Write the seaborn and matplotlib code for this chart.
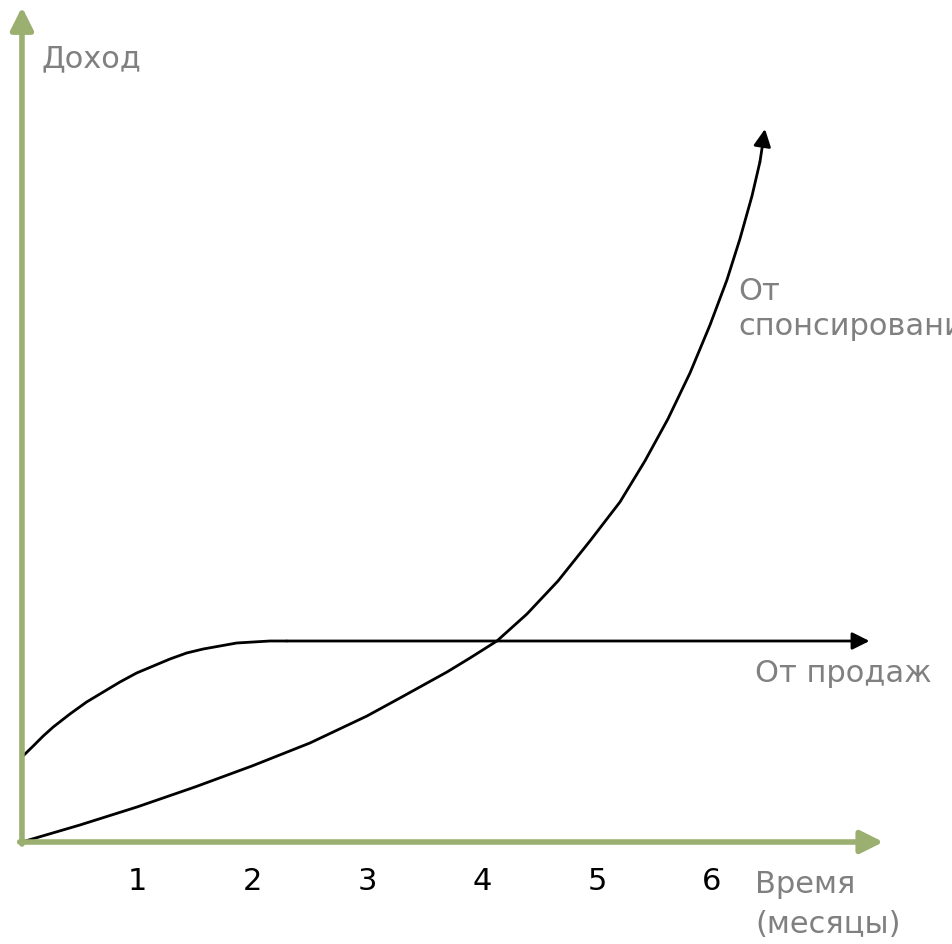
import matplotlib
matplotlib.use("Agg")
import matplotlib.pyplot as plt
import numpy as np
import pandas as pd
import seaborn as sns

# данные (месяцы, условный доход)
sponsor_months = [0.0, 0.504, 1.0, 1.504, 2.0, 2.504, 3.0, 3.287, 3.696, 3.896,
                  4.13, 4.391, 4.661, 4.939, 5.2, 5.417, 5.617, 5.809, 5.983,
                  6.13, 6.243, 6.348, 6.417]
sponsor_income = [0.0, 0.17, 0.35, 0.55, 0.76, 0.99, 1.26, 1.44, 1.70, 1.84,
                  2.01, 2.28, 2.61, 3.01, 3.40, 3.81, 4.23, 4.69, 5.17,
                  5.62, 6.03, 6.46, 6.80]
sponsor_tip = (6.461, 7.13)

sales_months = [0.0, 0.098, 0.185, 0.272, 0.417, 0.562, 0.707, 0.852, 0.997,
                1.142, 1.287, 1.432, 1.576, 1.722, 1.867, 2.011, 2.157, 2.302]
sales_income = [0.85, 0.96, 1.06, 1.15, 1.28, 1.40, 1.50, 1.60, 1.69,
                1.76, 1.83, 1.89, 1.93, 1.96, 1.99, 2.00, 2.01, 2.01]
sales_tip = (7.37, 2.01)

month_ticks = [1, 2, 3, 4, 5, 6]
x_axis_end = 7.49
y_axis_end = 8.35

green = "#9aaf70"
gray = "#808080"

sns.set_style("white")
plt.rcParams['font.family'] = ['DejaVu Sans']

df = pd.concat([
    pd.DataFrame({"month": sponsor_months, "income": sponsor_income, "src": "sponsor"}),
    pd.DataFrame({"month": sales_months, "income": sales_income, "src": "sales"}),
])

fig = plt.figure(figsize=(9.53, 9.45), dpi=100)
ax = fig.add_axes([0, 0, 1, 1])

sns.lineplot(data=df, x="month", y="income", units="src", estimator=None,
             sort=False, color="black", linewidth=2.0, ax=ax, legend=False,
             solid_joinstyle="round")

# хвосты со стрелками
ax.annotate("", xy=sponsor_tip, xytext=(sponsor_months[-1], sponsor_income[-1]),
            arrowprops=dict(arrowstyle="-|>", color="black", lw=2.0,
                            mutation_scale=26, shrinkA=0, shrinkB=0))
ax.annotate("", xy=sales_tip, xytext=(sales_months[-1], sales_income[-1]),
            arrowprops=dict(arrowstyle="-|>", color="black", lw=2.0,
                            mutation_scale=26, shrinkA=0, shrinkB=0))

# оси со стрелками
ax.annotate("", xy=(x_axis_end, 0), xytext=(-0.02, 0),
            arrowprops=dict(arrowstyle="-|>", color=green, lw=4.0,
                            mutation_scale=34, shrinkA=0, shrinkB=0))
ax.annotate("", xy=(0, y_axis_end), xytext=(0, -0.02),
            arrowprops=dict(arrowstyle="-|>", color=green, lw=4.0,
                            mutation_scale=34, shrinkA=0, shrinkB=0))

ax.set_xlim(-0.191, 8.096)
ax.set_ylim(-1.02, 8.43)

for s in ax.spines.values():
    s.set_visible(False)
ax.spines["bottom"].set_position(("data", 0))
ax.set_xticks(month_ticks)
ax.set_xticklabels([str(t) for t in month_ticks])
ax.tick_params(axis="x", direction="out", length=11, width=4, color=green,
               pad=6, labelsize=22, labelcolor="black")
ax.set_yticks([])
ax.set_xlabel("")
ax.set_ylabel("")

# подписи
fs = 22
ax.text(0.174, 7.76, "Доход", fontsize=fs, color=gray, va="baseline")
ax.text(6.374, -0.50, "Время", fontsize=fs, color=gray, va="baseline")
ax.text(6.374, -0.90, "(месяцы)", fontsize=fs, color=gray, va="baseline")
ax.text(6.374, 1.61, "От продаж", fontsize=fs, color=gray, va="baseline")
ax.text(6.226, 5.43, "От", fontsize=fs, color=gray, va="baseline")
ax.text(6.226, 5.08, "спонсирования", fontsize=fs, color=gray, va="baseline")

fig.savefig("out.png", dpi=100)
